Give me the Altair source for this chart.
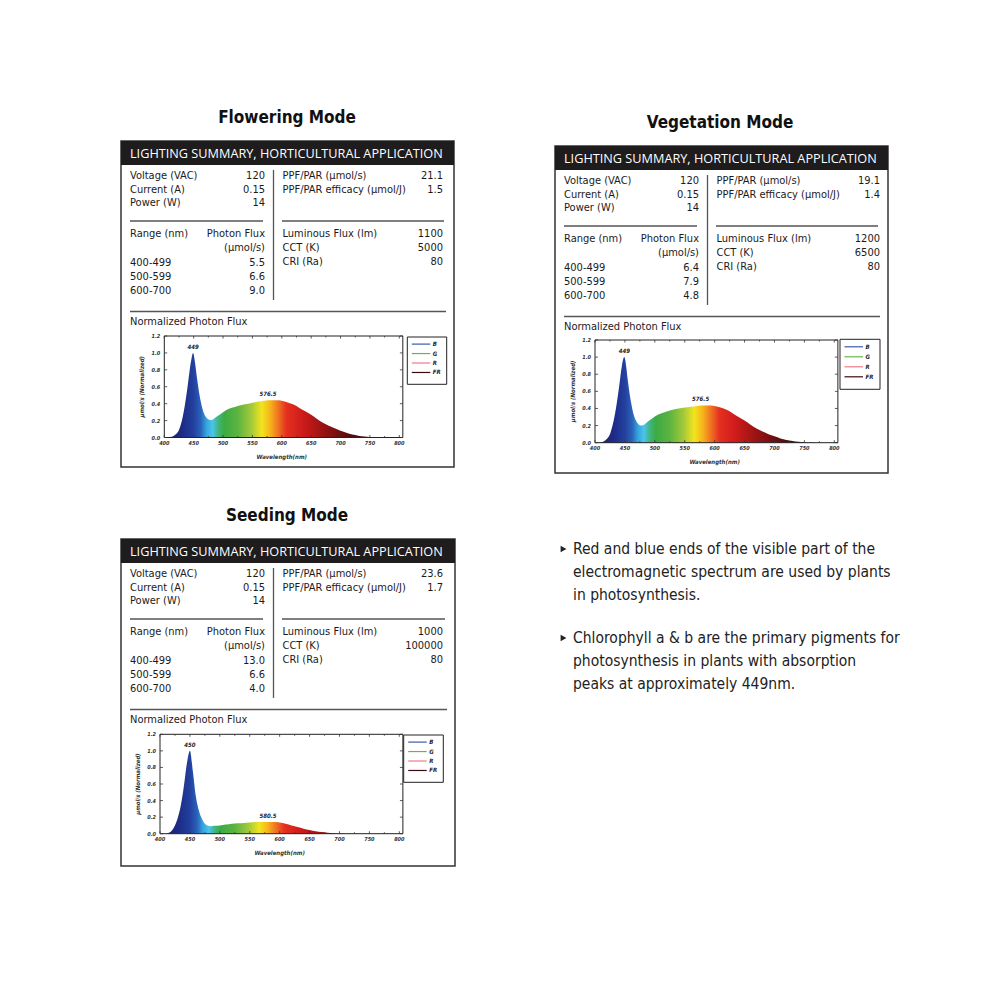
import altair as alt
import pandas as pd

# ------------------------------------------------------------------ data
modes = ["Flowering Mode", "Vegetation Mode", "Seeding Mode"]
header_text = "LIGHTING SUMMARY, HORTICULTURAL APPLICATION"
voltage = [120, 120, 120]
current = [0.15, 0.15, 0.15]
power = [14, 14, 14]
ppf = [21.1, 19.1, 23.6]
efficacy = [1.5, 1.4, 1.7]
ranges_nm = ["400-499", "500-599", "600-700"]
flux_flowering = [5.5, 6.6, 9.0]
flux_vegetation = [6.4, 7.9, 4.8]
flux_seeding = [13.0, 6.6, 4.0]
luminous = [1100, 1200, 1000]
cct = [5000, 6500, 100000]
cri = [80, 80, 80]

wl_flowering = [400, 405, 410, 415, 420, 425, 430, 435, 440, 445, 449, 452, 455, 460, 465,
                470, 475, 478, 482, 487, 492, 500, 510, 520, 530, 540, 550, 560, 570, 576.5,
                590, 600, 610, 620, 630, 640, 650, 660, 670, 680, 690, 700, 710, 720, 730,
                740, 750, 760, 770, 800]
val_flowering = [0, 0, 0.005, 0.015, 0.04, 0.09, 0.2, 0.38, 0.62, 0.88, 1.0, 0.9, 0.74, 0.5, 0.34,
                 0.25, 0.215, 0.205, 0.21, 0.235, 0.26, 0.3, 0.34, 0.36, 0.38, 0.395, 0.41, 0.425, 0.435, 0.44,
                 0.44, 0.435, 0.415, 0.39, 0.35, 0.31, 0.27, 0.22, 0.175, 0.14, 0.11, 0.08, 0.055, 0.035, 0.022,
                 0.012, 0.005, 0.001, 0, 0]

wl_vegetation = [400, 405, 410, 415, 420, 425, 430, 435, 440, 445, 449, 452, 455, 460, 465,
                 470, 475, 478, 482, 487, 492, 500, 510, 520, 530, 540, 550, 560, 570, 576.5,
                 590, 600, 610, 620, 630, 640, 650, 660, 670, 680, 690, 700, 710, 720, 730,
                 740, 750, 760, 770, 800]
val_vegetation = [0, 0, 0.006, 0.018, 0.045, 0.1, 0.22, 0.4, 0.64, 0.9, 1.0, 0.9, 0.72, 0.48, 0.32,
                  0.24, 0.205, 0.2, 0.21, 0.24, 0.265, 0.305, 0.34, 0.365, 0.385, 0.4, 0.41, 0.42, 0.43, 0.435,
                  0.435, 0.43, 0.41, 0.385, 0.345, 0.3, 0.26, 0.21, 0.165, 0.13, 0.1, 0.075, 0.05, 0.032, 0.02,
                  0.01, 0.004, 0.001, 0, 0]

wl_seeding = [400, 405, 410, 415, 420, 425, 430, 435, 440, 445, 450, 455, 460, 465, 470,
              475, 480, 485, 490, 500, 510, 520, 530, 540, 550, 560, 570, 580.5, 590, 600,
              610, 620, 630, 640, 650, 660, 670, 680, 690, 700, 710, 800]
val_seeding = [0, 0, 0, 0.01, 0.04, 0.1, 0.2, 0.35, 0.58, 0.85, 1.0, 0.75, 0.45, 0.28, 0.18,
               0.12, 0.095, 0.09, 0.095, 0.1, 0.11, 0.12, 0.125, 0.13, 0.135, 0.14, 0.14, 0.14, 0.14, 0.135,
               0.12, 0.1, 0.08, 0.06, 0.045, 0.03, 0.02, 0.012, 0.006, 0.002, 0, 0]

peak_wl = [[449, 576.5], [449, 576.5], [450, 580.5]]
peak_val = [[1.0, 0.44], [1.0, 0.435], [1.0, 0.14]]

x_ticks = [400, 450, 500, 550, 600, 650, 700, 750, 800]
x_minor = [425, 475, 525, 575, 625, 675, 725, 775]
y_ticks = [0.0, 0.2, 0.4, 0.6, 0.8, 1.0, 1.2]
legend_labels = ["B", "G", "R", "FR"]
legend_colors = ["#3a5ba8", "#63b84a", "#f07a8a", "#3a0a10"]

bullets = [
    ["Red and blue ends of the visible part of the",
     "electromagnetic spectrum are used by plants",
     "in photosynthesis."],
    ["Chlorophyll a & b are the primary pigments for",
     "photosynthesis in plants with absorption",
     "peaks at approximately 449nm."],
]

# ------------------------------------------------------------------ styles
COND = "Liberation Sans Narrow, DejaVu Sans Condensed, Roboto, sans-serif"
HEAD = "Open Sans, Noto Sans, sans-serif"
TXT = "#1c1a1b"
spectrum_stops = [(400, "#1a1f66"), (430, "#1d2a85"), (450, "#23409f"), (462, "#2a62b8"),
                  (472, "#35a6e0"), (482, "#4cc4ea"), (492, "#3fb57a"), (502, "#3daa44"),
                  (525, "#5cb440"), (548, "#a3c93a"), (566, "#f2e41e"), (580, "#f6b41c"),
                  (594, "#ef7222"), (608, "#e4301f"), (635, "#cf1b1b"), (665, "#a01414"),
                  (700, "#6e0e0e"), (740, "#3a0808"), (800, "#220404")]

panels = [
    dict(dx=0, dy=0, right=454, bottom=467, title=(287, 118),
         px=(164.3, 399.3), py=(437.5, 336.0), leg=(407.3, 337, 446.7, 384.3)),
    dict(dx=434, dy=5, right=888, bottom=473, title=(720, 123),
         px=(595.0, 834.3), py=(442.7, 340.0), leg=(840.0, 339.3, 880.0, 389.3)),
    dict(dx=0, dy=398, right=455, bottom=866, title=(287, 516),
         px=(160.0, 399.3), py=(833.7, 734.3), leg=(403.7, 735.0, 443.3, 782.3)),
]
spectra = [(wl_flowering, val_flowering), (wl_vegetation, val_vegetation), (wl_seeding, val_seeding)]
fluxes = [flux_flowering, flux_vegetation, flux_seeding]

LSC = alt.Scale(domain=[8, 992], range=[0, 984], nice=False, zero=False)


def LX(f="x"):
    return alt.X(f"{f}:Q", scale=LSC, axis=None)


def LY(f="y"):
    return alt.Y(f"{f}:Q", scale=LSC, axis=None)


def texts(rows, **kw):
    df = pd.DataFrame(rows, columns=["x", "y", "text"])
    base = dict(font=COND, fontSize=11, color=TXT, baseline="middle")
    base.update(kw)
    return alt.Chart(df).mark_text(**base).encode(x=LX(), y=LY(), text="text:N")


def rules(rows, **kw):
    df = pd.DataFrame(rows, columns=["x", "y", "x2", "y2"])
    base = dict(color="#555", strokeWidth=1.3)
    base.update(kw)
    return alt.Chart(df).mark_rule(**base).encode(x=LX(), y=LY(), x2="x2:Q", y2="y2:Q")


def rects(rows, **kw):
    df = pd.DataFrame(rows, columns=["x", "y", "x2", "y2"])
    return alt.Chart(df).mark_rect(**kw).encode(x=LX(), y=LY(), x2="x2:Q", y2="y2:Q")


layers = []

title_rows, head_rows, left_rows, right_rows = [], [], [], []
box_rows, bar_rows, rule_rows = [], [], []
for i, p in enumerate(panels):
    dx, dy = p["dx"], p["dy"]
    L = 121 + dx
    rshift = 3 if i == 1 else 0
    title_rows.append((p["title"][0], p["title"][1], modes[i]))
    box_rows.append((L, 141 + dy, p["right"], p["bottom"]))
    bar_rows.append((L, 141 + dy, p["right"], 165 + dy))
    head_rows.append((130 + dx, 154 + dy, header_text))
    for k, (lab, v) in enumerate([("Voltage (VAC)", voltage[i]), ("Current (A)", current[i]),
                                  ("Power (W)", power[i])]):
        yy = 176 + dy + k * 13.5
        left_rows.append((130 + dx, yy, lab))
        right_rows.append((265 + dx, yy, str(v)))
    for k, (lab, v) in enumerate([("PPF/PAR (µmol/s)", ppf[i]), ("PPF/PAR efficacy (µmol/J)", efficacy[i])]):
        yy = 176 + dy + k * 13.5
        left_rows.append((282.5 + dx, yy, lab))
        right_rows.append((443 + dx + rshift, yy, str(v)))
    left_rows.append((130 + dx, 234 + dy, "Range (nm)"))
    right_rows.append((265 + dx, 234 + dy, "Photon Flux"))
    right_rows.append((265 + dx, 248 + dy, "(µmol/s)"))
    for k, r in enumerate(ranges_nm):
        yy = 263 + dy + k * 14
        left_rows.append((130 + dx, yy, r))
        right_rows.append((265 + dx, yy, str(fluxes[i][k])))
    for k, (lab, v) in enumerate([("Luminous Flux (lm)", luminous[i]), ("CCT (K)", cct[i]),
                                  ("CRI (Ra)", cri[i])]):
        yy = 234 + dy + k * 14
        left_rows.append((282.5 + dx, yy, lab))
        right_rows.append((443 + dx + rshift, yy, str(v)))
    left_rows.append((130 + dx, 322 + dy, "Normalized Photon Flux"))
    rr = p["right"] - 8
    rule_rows += [(130 + dx, 221 + dy, 263 + dx, 221 + dy),
                  (282 + dx, 221 + dy, rr - 2, 221 + dy),
                  (273.5 + dx, 170 + dy, 273.5 + dx, 300 + dy),
                  (130 + dx, 311.5 + dy, rr, 311.5 + dy)]

layers.append(rects(box_rows, fill="white", stroke="#333", strokeWidth=1.5))
layers.append(rects(bar_rows, fill="#1e1c1d"))
layers.append(texts(head_rows, font=HEAD, fontSize=12.7, color="white", align="left"))
layers.append(texts(title_rows, font="DejaVu Sans Condensed, Roboto, sans-serif", fontSize=17,
                    fontWeight="bold", align="center", color="#111"))
layers.append(texts(left_rows, align="left"))
layers.append(texts(right_rows, align="right"))
layers.append(rules(rule_rows))

# ------------------------------------------------------------------ spectra
for i, p in enumerate(panels):
    wl, val = spectra[i]
    xs = alt.Scale(domain=[400, 800], range=[p["px"][0] - 8, p["px"][1] - 8], nice=False, zero=False)
    ys = alt.Scale(domain=[0, 1.2], range=[p["py"][0] - 8, p["py"][1] - 8], nice=False, zero=False)
    SX = lambda f, s=xs: alt.X(f"{f}:Q", scale=s, axis=None)
    SY = lambda f, s=ys: alt.Y(f"{f}:Q", scale=s, axis=None)

    lo, hi = min(wl), max(wl)
    grad = alt.LinearGradient(
        gradient="linear", x1=0, x2=1, y1=0, y2=0,
        stops=[alt.GradientStop(offset=(w - lo) / (hi - lo), color=c) for w, c in spectrum_stops])
    sdf = pd.DataFrame({"wl": wl, "v": val})
    layers.append(alt.Chart(sdf).mark_area(color=grad, interpolate="monotone").encode(x=SX("wl"), y=SY("v")))

    frame = pd.DataFrame({"a": [400], "b": [806], "c": [0.0], "d": [1.2]})
    layers.append(alt.Chart(frame).mark_rect(fill=None, stroke="#222", strokeWidth=1)
                  .encode(x=SX("a"), x2="b:Q", y=SY("c"), y2="d:Q"))

    tdf = pd.DataFrame({"t": x_ticks + x_minor})
    tdf["y0"] = 0.0
    tdf["y1"] = [0.03] * len(x_ticks) + [0.018] * len(x_minor)
    tdf["z0"] = 1.2
    tdf["z1"] = [1.17] * len(x_ticks) + [1.182] * len(x_minor)
    layers.append(alt.Chart(tdf).mark_rule(color="#333", strokeWidth=0.8)
                  .encode(x=SX("t"), y=SY("y0"), y2="y1:Q"))
    layers.append(alt.Chart(tdf).mark_rule(color="#333", strokeWidth=0.8)
                  .encode(x=SX("t"), y=SY("z0"), y2="z1:Q"))
    ydf = pd.DataFrame({"v": y_ticks, "x0": 400, "x1": 405, "x2b": 806, "x3": 801})
    layers.append(alt.Chart(ydf).mark_rule(color="#333", strokeWidth=0.8)
                  .encode(y=SY("v"), x=SX("x0"), x2="x1:Q"))
    layers.append(alt.Chart(ydf).mark_rule(color="#333", strokeWidth=0.8)
                  .encode(y=SY("v"), x=SX("x2b"), x2="x3:Q"))

    xl = pd.DataFrame({"t": x_ticks, "y": 0.0, "lab": [str(t) for t in x_ticks]})
    layers.append(alt.Chart(xl).mark_text(font=COND, fontSize=5.5, fontStyle="italic", fontWeight="bold",
                                          color="#333", baseline="top", dy=3)
                  .encode(x=SX("t"), y=SY("y"), text="lab:N"))
    yl = pd.DataFrame({"v": y_ticks, "x": 400, "lab": [f"{v:.1f}" for v in y_ticks]})
    layers.append(alt.Chart(yl).mark_text(font=COND, fontSize=5.5, fontStyle="italic", fontWeight="bold",
                                          color="#333", align="right", baseline="middle", dx=-4)
                  .encode(x=SX("x"), y=SY("v"), text="lab:N"))

    pk = pd.DataFrame({"w": peak_wl[i], "v": peak_val[i], "lab": [str(w) for w in peak_wl[i]]})
    layers.append(alt.Chart(pk).mark_text(font=COND, fontSize=6, fontStyle="italic", fontWeight="bold",
                                          color="#222", baseline="bottom", dy=-3)
                  .encode(x=SX("w"), y=SY("v"), text="lab:N"))

    px0, px1 = p["px"]
    py0, py1 = p["py"]
    layers.append(texts([((px0 + px1) / 2, py0 + 19, "Wavelength(nm)")], fontSize=6, fontStyle="italic",
                        fontWeight="bold", align="center", color="#333"))
    layers.append(texts([(px0 - 22.5, (py0 + py1) / 2, "µmol/s (Normalized)")], fontSize=6,
                        fontStyle="italic", fontWeight="bold", align="center", angle=270, color="#333"))

    lx0, ly0, lx1, ly1 = p["leg"]
    layers.append(rects([(lx0, ly0, lx1, ly1)], fill="white", stroke="#222", strokeWidth=1))
    step = (ly1 - ly0) / 5.0
    lg = pd.DataFrame({"lab": legend_labels, "col": legend_colors})
    lg["y"] = [ly0 + step * (k + 0.75) for k in range(len(legend_labels))]
    lg["x"] = lx0 + 4.5
    lg["x2"] = lx0 + 23
    lg["tx"] = lx0 + 25.5
    layers.append(alt.Chart(lg).mark_rule(strokeWidth=1.2)
                  .encode(x=LX("x"), x2="x2:Q", y=LY("y"),
                          color=alt.Color("col:N", scale=None, legend=None)))
    layers.append(alt.Chart(lg).mark_text(font=COND, fontSize=6, fontStyle="italic", fontWeight="bold",
                                          color="#222", align="left", baseline="middle")
                  .encode(x=LX("tx"), y=LY("y"), text="lab:N"))

# ------------------------------------------------------------------ bullets
brow, tri = [], []
for b, lines in enumerate(bullets):
    for k, line in enumerate(lines):
        yy = 549 + b * 89 + k * 23
        brow.append((573, yy, line))
    tri.append((563.5, 549 + b * 89, ""))
layers.append(texts(brow, fontSize=15.5, align="left", color="#222"))
tdfp = pd.DataFrame(tri, columns=["x", "y", "text"])
layers.append(alt.Chart(tdfp).mark_point(shape="triangle-right", filled=True, size=45, color="#222", opacity=1)
              .encode(x=LX(), y=LY()))

chart = (alt.layer(*layers)
         .resolve_scale(x="independent", y="independent", color="independent")
         .properties(width=984, height=984, padding=0, autosize="none", background="white")
         .configure_view(stroke=None))

chart.save("out.html", embed_options={"renderer": "svg", "actions": False})
